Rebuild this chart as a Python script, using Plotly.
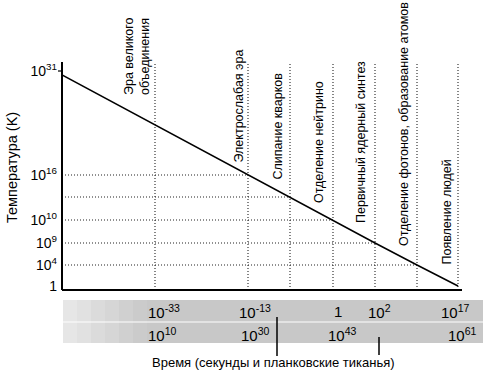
import numpy as np
import plotly.graph_objects as go

# ---------------- data ----------------
events = [
    "Эра великого<br>объединения",
    "Электрослабая эра",
    "Слипание кварков",
    "Отделение нейтрино",
    "Первичный ядерный синтез",
    "Отделение фотонов, образование атомов",
    "Появление людей",
]
# schematic (non-uniform) position of each event on the time axis
event_time = [93, 186, 228, 271, 313, 355, 396]

temp_labels = ["1", "10<sup>4</sup>", "10<sup>9</sup>", "10<sup>10</sup>",
               "10<sup>16</sup>", "10<sup>31</sup>"]
temp_levels = [4, 25, 47, 70, 115, 219]   # schematic position of each temperature tick

# cooling curve: start of time, then temperature level reached at each event
curve_time = [0] + event_time[1:]
curve_temp = [215, 115, 93, 70, 47, 25, 4]

sec_labels = ["10<sup>-33</sup>", "10<sup>-13</sup>", "1", "10<sup>2</sup>", "10<sup>17</sup>"]
sec_events = [0, 1, 3, 4, 6]
planck_labels = ["10<sup>10</sup>", "10<sup>30</sup>", "10<sup>43</sup>", "10<sup>61</sup>"]
planck_events = [0, 1, 3, 6]

x_title = "Время (секунды и планковские тиканья)"
y_title = "Температура (K)"

# ---------------- layout constants ----------------
W, H = 500, 375
ML, MR, MT, MB = 62, 17, 62, 85
PW, PH = W - ML - MR, H - MT - MB
XR = [0, PW]
YR = [0, PH]
FONT = "Liberation Sans, Arial, Helvetica, sans-serif"
DOT = "1px,2px"
label_xshift = [-1, -1, -4, -5, -5, -4, -3]
label_yshift = [28, 10, 15, 15, 18, 17, 19]
sec_xshift = [-9, -11, -1, -9, -19]
planck_xshift = [-9, -9, -7, -12]


def py(pix):
    """pixel row -> paper y"""
    return (H - MB - pix) / PH


fig = go.Figure()

# cooling curve
fig.add_trace(go.Scatter(x=curve_time, y=curve_temp, mode="lines",
                         line=dict(color="black", width=1.5),
                         hoverinfo="skip", showlegend=False))

shapes = []
# vertical dotted lines at each event
for t in event_time:
    shapes.append(dict(type="line", xref="x", yref="y", x0=t, x1=t, y0=0, y1=YR[1],
                       line=dict(color="#222", width=1.1, dash=DOT), layer="below"))
# horizontal dotted lines to curve intersections
for t, T in zip(curve_time[1:-1], curve_temp[1:-1]):
    shapes.append(dict(type="line", xref="x", yref="y", x0=0, x1=t, y0=T, y1=T,
                       line=dict(color="#222", width=1.1, dash=DOT), layer="below"))
# axes
shapes.append(dict(type="line", xref="paper", yref="y", x0=0, x1=0, y0=0, y1=YR[1],
                   line=dict(color="black", width=2)))
shapes.append(dict(type="line", xref="x", yref="paper", x0=0, x1=event_time[-1] + 4, y0=0, y1=0,
                   line=dict(color="black", width=2)))
shapes.append(dict(type="line", xref="paper", yref="y", x0=-4 / PW, x1=0,
                   y0=temp_levels[-1], y1=temp_levels[-1], line=dict(color="black", width=1.2)))

# grey band
for y0p, y1p in [(300, 321.5), (322.5, 343)]:
    shapes.append(dict(type="rect", xref="x", yref="paper", x0=1, x1=PW,
                       y0=py(y1p), y1=py(y0p), fillcolor="#c8c8c8", line=dict(width=0),
                       layer="below"))
# lighter left part of band
for i, op in enumerate([0.55, 0.45, 0.35, 0.25, 0.15, 0.07]):
    shapes.append(dict(type="rect", xref="x", yref="paper", x0=1 + i * 14, x1=1 + (i + 1) * 14,
                       y0=py(343), y1=py(300), fillcolor="white", opacity=op,
                       line=dict(width=0), layer="below"))
# pointer marks in band
shapes.append(dict(type="line", xref="x", yref="paper", x0=215, x1=215, y0=py(356), y1=py(317),
                   line=dict(color="black", width=1.5)))
shapes.append(dict(type="line", xref="x", yref="paper", x0=317, x1=317, y0=py(355), y1=py(337),
                   line=dict(color="black", width=1.5)))

annotations = []
# event labels (rotated)
for i, (name, t) in enumerate(zip(events, event_time)):
    yc = float(np.interp(t, curve_time, curve_temp))
    annotations.append(dict(text=name, x=t, y=yc, xref="x", yref="y",
                            xanchor="right", yanchor="bottom", textangle=-90,
                            align="left", showarrow=False,
                            xshift=label_xshift[i], yshift=label_yshift[i],
                            font=dict(family=FONT, size=12.5, color="black")))
# time labels in band
for lab, ev, xs in zip(sec_labels, sec_events, sec_xshift):
    annotations.append(dict(text=lab, x=event_time[ev], y=py(311), xref="x", yref="paper",
                            xanchor="left", yanchor="middle", showarrow=False, xshift=xs,
                            font=dict(family=FONT, size=15, color="black")))
for lab, ev, xs in zip(planck_labels, planck_events, planck_xshift):
    annotations.append(dict(text=lab, x=event_time[ev], y=py(334), xref="x", yref="paper",
                            xanchor="left", yanchor="middle", showarrow=False, xshift=xs,
                            font=dict(family=FONT, size=15, color="black")))
# axis titles
annotations.append(dict(text=x_title, x=(273 - ML) / PW, y=py(362), xref="paper", yref="paper",
                        xanchor="center", yanchor="middle", showarrow=False,
                        font=dict(family=FONT, size=13, color="black")))
annotations.append(dict(text=y_title, x=(12 - ML) / PW, y=py(168), xref="paper", yref="paper",
                        xanchor="center", yanchor="middle", textangle=-90, showarrow=False,
                        font=dict(family=FONT, size=14.5, color="black")))

fig.update_layout(
    width=W, height=H,
    margin=dict(l=ML, r=MR, t=MT, b=MB, pad=0),
    paper_bgcolor="white", plot_bgcolor="white",
    showlegend=False,
    shapes=shapes, annotations=annotations,
    xaxis=dict(range=XR, showgrid=False, zeroline=False, showline=False,
               showticklabels=False, ticks="", fixedrange=True),
    yaxis=dict(range=YR, showgrid=False, zeroline=False, showline=False,
               tickmode="array", tickvals=temp_levels, ticktext=temp_labels,
               ticks="", ticklabelstandoff=4,
               tickfont=dict(family=FONT, size=14, color="black"), fixedrange=True),
    font=dict(family=FONT, color="black"),
)

fig.write_html("out.html", config={"displayModeBar": False},
               post_script="document.body.style.margin='0';document.body.style.overflow='hidden';")
